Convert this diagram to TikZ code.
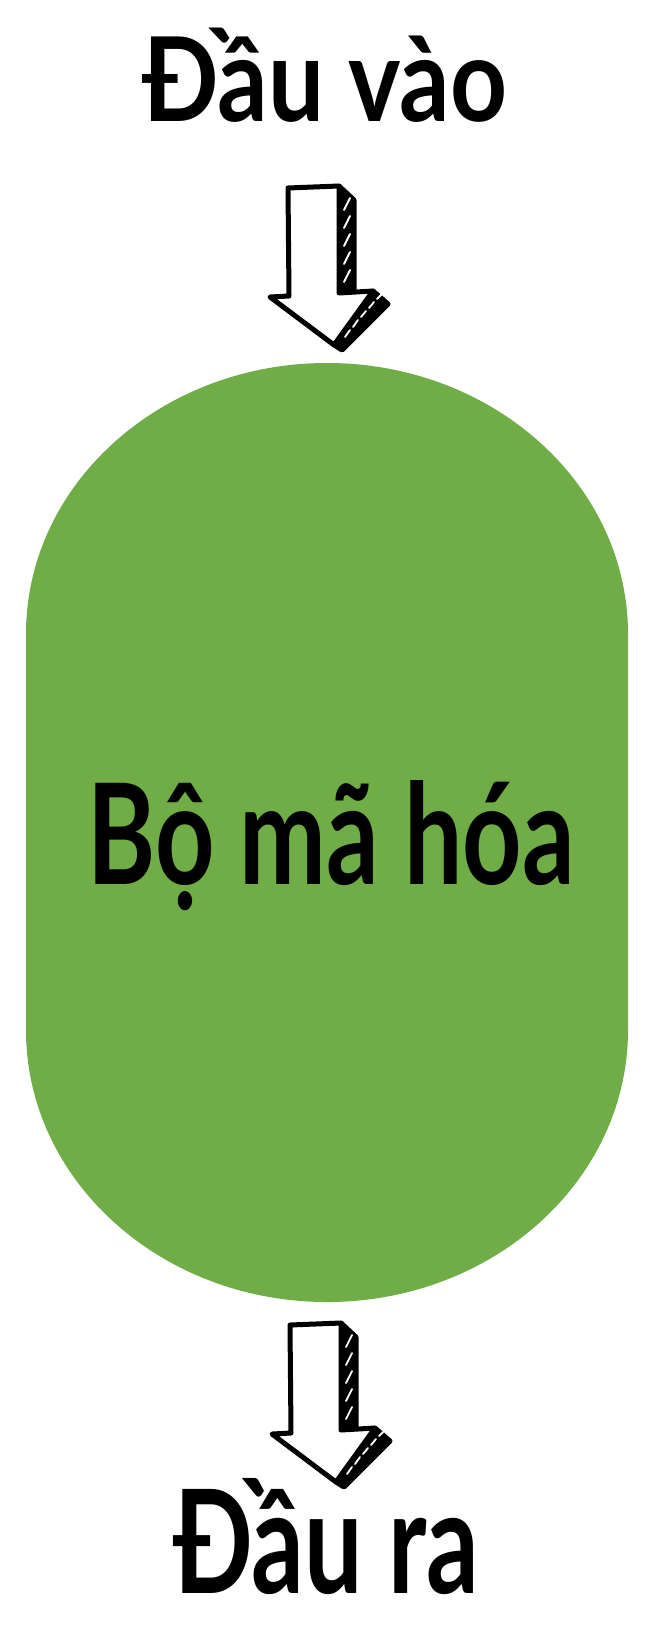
\documentclass[tikz,border=0pt]{standalone}
\usepackage{fontspec}
\usepackage{graphicx}
\setmainfont{Lato}
\definecolor{encgreen}{RGB}{112,173,71}
\tikzset{
  x=1pt, y=1pt,
  lbltext/.style={anchor=base, inner sep=0pt, font=\bfseries},
  arrowline/.style={draw=black, line width=5pt, line join=round, line cap=round},
  hatchline/.style={draw=white, line width=1.8pt, line cap=round},
  sketcharrow/.pic={
    % shaft side
    \filldraw[arrowline, fill=black] (51,2) -- (66,-12) -- (66,-101) -- (51,-105) -- cycle;
    % head side
    \filldraw[arrowline, fill=black] (85,-103) -- (100,-116) -- (54,-162) -- (46,-157) -- cycle;
    % front face
    \filldraw[arrowline, fill=white] (0,0) -- (51,2) -- (51,-105) -- (85,-103) -- (46,-157) -- (-18,-109) -- (1,-108) -- cycle;
    % hatching
    \foreach \yy in {-16,-34,-52,-70,-88} {\draw[hatchline] (56,\yy-6) -- (62,\yy+6);}
    \draw[hatchline] (89,-111) -- (94,-106);
    \draw[hatchline] (81,-120) -- (86,-114);
    \draw[hatchline] (73,-129) -- (78,-123);
    \draw[hatchline] (65,-139) -- (70,-132);
    \draw[hatchline] (57,-149) -- (62,-142);
  }
}
\begin{document}
\begin{tikzpicture}
\useasboundingbox (0,0) rectangle (656,-1632);
\fill[white] (0,0) rectangle (656,-1632);
% encoder shape
\fill[encgreen] (26,-634) -- (26,-1030)
  arc[start angle=180, end angle=360, x radius=301, y radius=272]
  -- (628,-634)
  arc[start angle=0, end angle=180, x radius=301, y radius=271] -- cycle;
\node[lbltext] (enc) at (331,-884) {\fontsize{140}{150}\selectfont\scalebox{0.74}[1]{Bộ mã hóa}};
% labels
\node[lbltext] (in) at (325,-122) {\fontsize{117}{120}\selectfont\scalebox{0.85}[1]{Đầu vào}};
\node[lbltext] (out) at (326,-1593) {\fontsize{144}{150}\selectfont\scalebox{0.72}[1]{Đầu ra}};
% arrows
\pic at (288,-188) {sketcharrow};
\pic at (290,-1325) {sketcharrow};
\end{tikzpicture}
\end{document}
